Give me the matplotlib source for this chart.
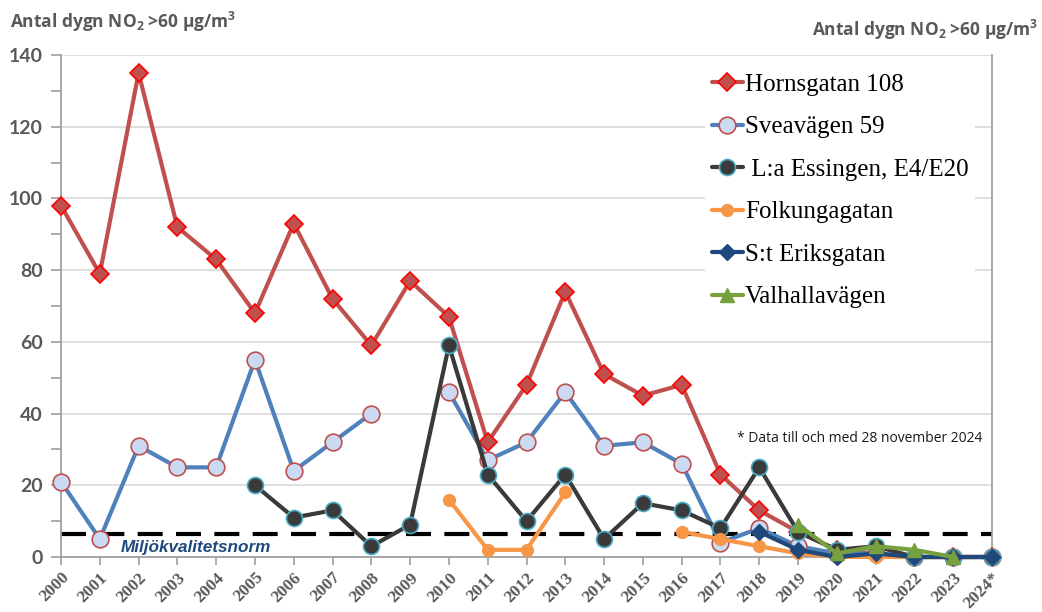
import numpy as np
import matplotlib.pyplot as plt
import matplotlib.transforms as mtransforms

plt.rcParams['mathtext.fontset'] = 'custom'
plt.rcParams['mathtext.rm'] = 'Open Sans:bold'
plt.rcParams['mathtext.bf'] = 'Open Sans:bold'

nan = np.nan

# ---- Antal dygn med NO2-dygnsmedel över 60 µg/m3 per mätstation ----
years = np.arange(2000, 2025)
year_labels = [str(y) for y in range(2000, 2024)] + ['2024*']

hornsgatan = [98, 79, 135, 92, 83, 68, 93, 72, 59, 77, 67, 32, 48, 74, 51, 45,
              48, 23, 13, 7, 2, 1, 0, 0, 0]
sveavagen = [21, 5, 31, 25, 25, 55, 24, 32, 40, nan, 46, 27, 32, 46, 31, 32,
             26, 4, 8, 3, 1, 1, 0, 0, 0]
essingen = [nan, nan, nan, nan, nan, 20, 11, 13, 3, 9, 59, 23, 10, 23, 5, 15,
            13, 8, 25, 7, 2, 3, 0, 0, 0]
folkungagatan = [nan] * 10 + [16, 2, 2, 18, nan, nan, 7, 5, 3, 1, 0, 0, 0, 0, 0]
eriksgatan = [nan] * 18 + [7, 2, 0, 1, 0, 0, 0]
valhallavagen = [nan] * 19 + [9, 1, 3, 2, 0, nan]

norm_level = 6.5

series = [
    ('Hornsgatan 108', hornsgatan,
     dict(color='#C0504D', marker='D', ms=9, mfc='#C0504D', mec='#FF0000', mew=1.2)),
    ('Sveavägen 59', sveavagen,
     dict(color='#4F81BD', marker='o', ms=12, mfc='#C9DAF2', mec='#C0504D', mew=1.2)),
    (' L:a Essingen, E4/E20', essingen,
     dict(color='#3A3A3A', marker='o', ms=11.5, mfc='#3A3A3A', mec='#4BACC6', mew=1.2)),
    ('Folkungagatan', folkungagatan,
     dict(color='#F79646', marker='o', ms=8.5, mfc='#F79646', mec='#F79646', mew=1)),
    ('S:t Eriksgatan', eriksgatan,
     dict(color='#1F497D', marker='D', ms=8.5, mfc='#1F497D', mec='#1F497D', mew=1)),
    ('Valhallavägen', valhallavagen,
     dict(color='#77A03F', marker='^', ms=10, mfc='#77A03F', mec='#77A03F', mew=1)),
]

fig = plt.figure(figsize=(10.42, 6.12), dpi=100)
ax = fig.add_axes([61 / 1042, 1 - 557 / 612, 931 / 1042, 502 / 612])

handles = []
for i, (name, vals, style) in enumerate(series):
    ln, = ax.plot(years, vals, lw=3, clip_on=False, zorder=3 + i,
                  solid_capstyle='round', **style)
    handles.append(ln)

ax.axhline(norm_level, color='black', lw=3, dashes=(6, 3.2), zorder=2)
ax.text(2001.55, 2.6, 'Miljökvalitetsnorm', color='#1F497D', fontsize=12.3,
        fontweight='bold', fontstyle='italic', family='Liberation Sans',
        va='center', ha='left', zorder=12)

ax.set_xlim(2000, 2024)
ax.set_ylim(0, 140)
ax.set_yticks(np.arange(0, 141, 20))
ax.set_yticks(np.arange(10, 140, 20), minor=True)
ax.set_xticks(years)
ax.set_xticklabels(year_labels, rotation=45, ha='right', rotation_mode='anchor',
                   family='Liberation Serif', fontweight='bold', fontsize=12.5,
                   color='#595959')
shift = mtransforms.ScaledTranslation(5 / 100, 0, fig.dpi_scale_trans)
for lbl in ax.get_xticklabels():
    lbl.set_transform(lbl.get_transform() + shift)
for lbl in ax.get_yticklabels():
    lbl.set_family('Lato')
    lbl.set_fontweight('bold')
    lbl.set_fontsize(14)
    lbl.set_color('#595959')

ax.grid(axis='y', color='#D9D9D9', lw=1.2, zorder=0)
ax.set_axisbelow(True)
for side in ['left', 'bottom', 'right']:
    ax.spines[side].set_color('#A0A0A0')
    ax.spines[side].set_linewidth(1.3)
ax.spines['top'].set_visible(False)
ax.tick_params(axis='both', which='both', color='#A0A0A0', width=1.2, direction='out')
ax.tick_params(axis='y', which='major', length=7, pad=6)
ax.tick_params(axis='y', which='minor', length=7)
ax.tick_params(axis='x', length=6, pad=3)

leg = ax.legend(handles=handles, labels=[s[0] for s in series],
                loc='upper left', bbox_to_anchor=(0.692, 1 - 12 / 502),
                prop={'family': 'Liberation Serif', 'size': 18},
                frameon=True, facecolor='white', edgecolor='none', framealpha=1,
                borderaxespad=0, borderpad=0.25, labelspacing=0.8,
                handlelength=1.25, handletextpad=0.08, fancybox=False)
leg.set_zorder(20)
leg.get_frame().set_linewidth(0)

ax.text(0.990, 0.236, '* Data till och med 28 november 2024', transform=ax.transAxes,
        ha='right', va='center', fontsize=10, family='Open Sans', color='#1A1A1A',
        zorder=12)

title = 'Antal dygn NO$_2$ >60 µg/m$^3$'
fig.text(10 / 1042, 1 - 22 / 612, title, ha='left', va='center', fontsize=12.5,
         fontweight='bold', family='Open Sans', color='#595959')
fig.text(1038 / 1042, 1 - 30 / 612, title, ha='right', va='center', fontsize=12.5,
         fontweight='bold', family='Open Sans', color='#595959')

fig.savefig('out.png', dpi=100)
